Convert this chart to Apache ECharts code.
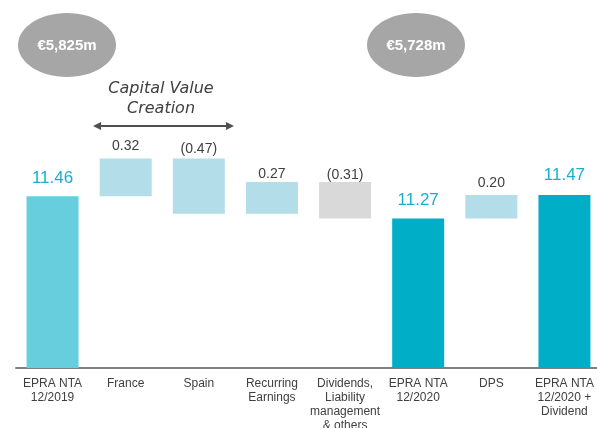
<!DOCTYPE html>
<html>
<head>
<meta charset="utf-8">
<script src="https://cdn.jsdelivr.net/npm/echarts@6/dist/echarts.min.js"></script>
<style>
  html, body { margin: 0; padding: 0; background: #fff; }
  #main { width: 597px; height: 428px; }
</style>
</head>
<body>
<div id="main"></div>
<script>
// waterfall data
const categories = [
  "EPRA NTA\n12/2019", "France", "Spain", "Recurring\nEarnings",
  "Dividends,\nLiability\nmanagement\n& others", "EPRA NTA\n12/2020", "DPS",
  "EPRA NTA\n12/2020 +\nDividend"
];
const values = [11.46, 0.32, -0.47, 0.27, -0.31, 11.27, 0.20, 11.47];
const isTotal = [true, false, false, false, false, true, false, true];
const barLabels = ["11.46", "0.32", "(0.47)", "0.27", "(0.31)", "11.27", "0.20", "11.47"];
const barColors = ["#66CEDC", "#B2DDE9", "#B2DDE9", "#B2DDE9", "#D9D9D9", "#00AEC7", "#B2DDE9", "#00AEC7"];
const bubbles = ["€5,825m", "€5,728m"];
// label gap above each bar (px)
const labelGap = [9, 5, 2, 1, 0, 10, 5, 11];

// base (transparent) + visible part
const base = [];
const visible = [];
let running = 0;
values.forEach((v, i) => {
  if (isTotal[i]) {
    base.push(0);
    visible.push(v);
    running = v;
  } else {
    const next = running + v;
    base.push(Math.min(running, next));
    visible.push(Math.abs(v));
    running = next;
  }
});

const chart = echarts.init(document.getElementById("main"));
chart.setOption({
  animation: false,
  grid: { left: 16, top: 15, width: 585, height: 353, outerBoundsMode: "none", containLabel: false },
  xAxis: {
    type: "category",
    data: categories,
    axisLine: { lineStyle: { color: "#808080", width: 2 } },
    axisTick: { show: false },
    axisLabel: {
      interval: 0,
      margin: 9,
      color: "#404040",
      fontFamily: "Liberation Sans",
      fontSize: 12,
      lineHeight: 14
    }
  },
  yAxis: { type: "value", min: 10, max: 13, show: false, splitLine: { show: false } },
  series: [
    {
      type: "bar",
      stack: "w",
      barWidth: 52,
      itemStyle: { color: "transparent" },
      data: base,
      silent: true
    },
    {
      type: "bar",
      stack: "w",
      barWidth: 52,
      clip: true,
      data: visible.map((v, i) => ({
        value: v,
        itemStyle: { color: barColors[i] },
        label: isTotal[i]
          ? { color: "#1AAFCF", fontSize: 17, distance: labelGap[i] }
          : { color: "#404040", fontSize: 14, distance: labelGap[i] }
      })),
      label: {
        show: true,
        position: "top",
        fontFamily: "Liberation Sans",
        formatter: p => barLabels[p.dataIndex]
      }
    }
  ],
  graphic: [
    { type: "ellipse", shape: { cx: 67, cy: 45, rx: 49, ry: 32 }, style: { fill: "#A6A6A6" } },
    { type: "ellipse", shape: { cx: 416, cy: 45, rx: 49, ry: 32 }, style: { fill: "#A6A6A6" } },
    {
      type: "text", x: 67, y: 46,
      style: { text: bubbles[0], fill: "#fff", font: "bold 15px 'Liberation Sans'", align: "center", verticalAlign: "middle" }
    },
    {
      type: "text", x: 416, y: 46,
      style: { text: bubbles[1], fill: "#fff", font: "bold 15px 'Liberation Sans'", align: "center", verticalAlign: "middle" }
    },
    {
      type: "text", x: 161, y: 99,
      style: {
        text: "Capital Value\nCreation", fill: "#404040", font: "italic 16px 'DejaVu Sans'",
        lineHeight: 20, align: "center", verticalAlign: "middle"
      }
    },
    { type: "line", shape: { x1: 98, y1: 126, x2: 228, y2: 126 }, style: { stroke: "#505050", lineWidth: 2 } },
    { type: "polygon", shape: { points: [[93, 126], [101, 122], [101, 130]] }, style: { fill: "#505050" } },
    { type: "polygon", shape: { points: [[234, 126], [226, 122], [226, 130]] }, style: { fill: "#505050" } }
  ]
});
</script>
</body>
</html>
